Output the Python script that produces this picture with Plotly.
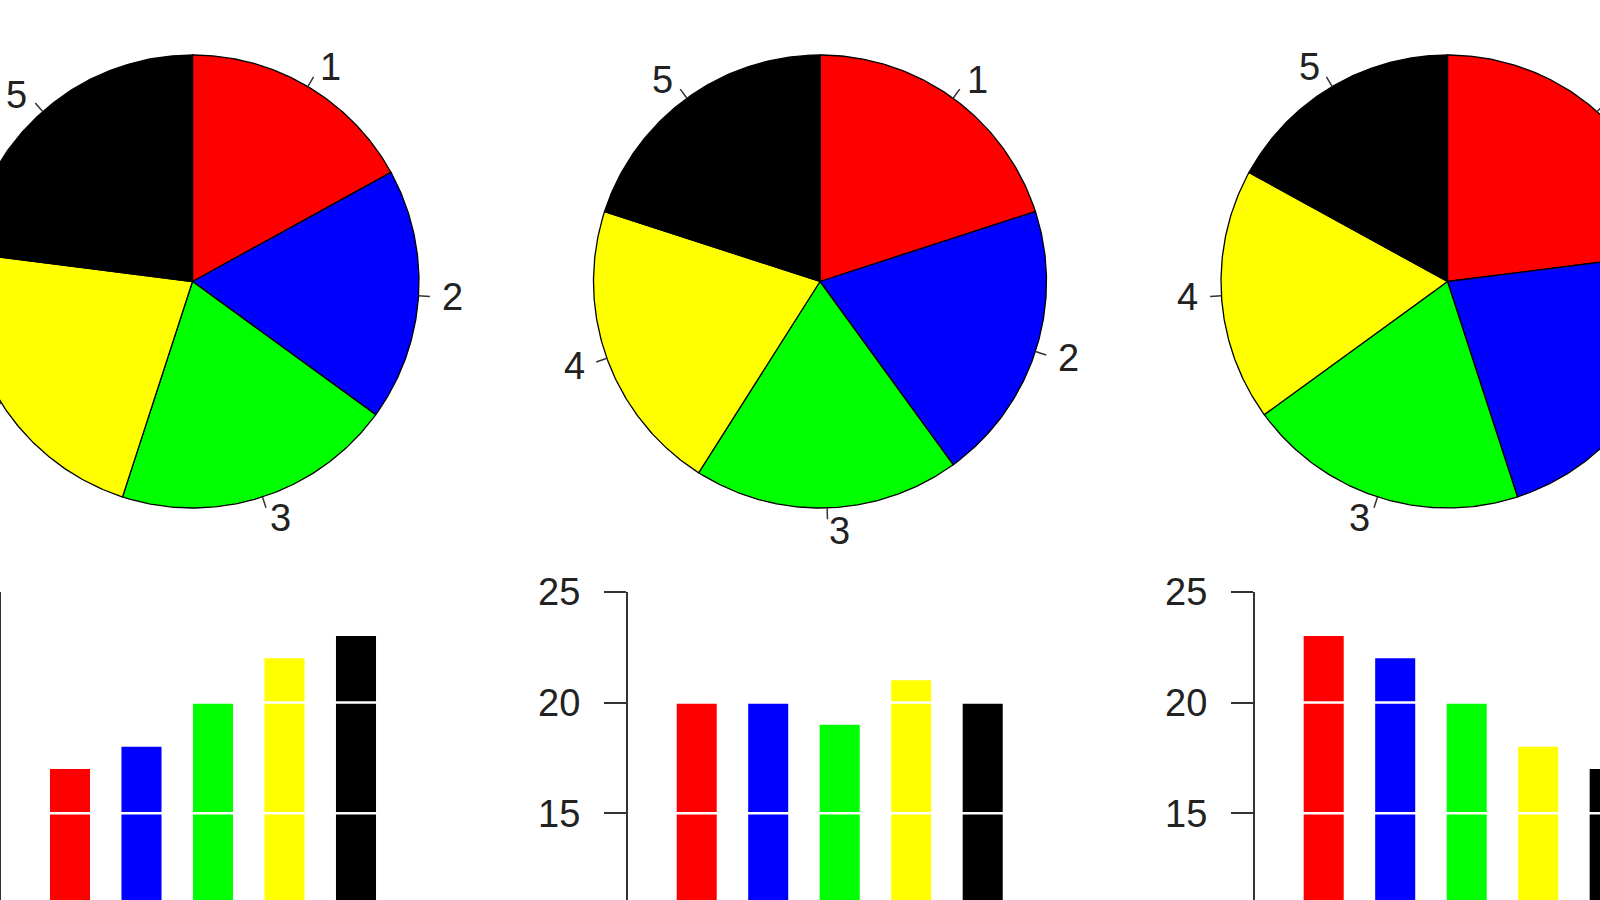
import numpy as np
import plotly.graph_objects as go

# data
slice_labels = ["1", "2", "3", "4", "5"]
values_a = [17, 18, 20, 22, 23]
values_b = [20, 20, 19, 21, 20]
values_c = [23, 22, 20, 18, 17]
bar_pos = [1, 2, 3, 4, 5]
y_ticks = [15, 20, 25]
colors = ["#ff0000", "#0000ff", "#00ff00", "#ffff00", "#000000"]

W, H = 1600, 900
FONT = dict(family="Liberation Sans, Arial, sans-serif", size=38, color="#222")
INK = "#333"

fig = go.Figure()

# --- pies, drawn on a pixel-scaled hidden axis so they can run off the page ---
pie_cx = [192.5, 820, 1447.5]
pie_cy = 281.5
pie_r = 226.5

for vals, cx in zip([values_a, values_b, values_c], pie_cx):
    frac = np.cumsum([0] + vals) / sum(vals)
    for i in range(len(vals)):
        t = np.linspace(frac[i], frac[i + 1], 120) * 2 * np.pi
        xs = np.concatenate([[cx], cx + pie_r * np.sin(t), [cx]])
        ys = np.concatenate([[pie_cy], pie_cy - pie_r * np.cos(t), [pie_cy]])
        fig.add_trace(go.Scatter(
            x=xs, y=ys, mode="lines", fill="toself", fillcolor=colors[i],
            line=dict(color="black", width=1.3), hoverinfo="skip", showlegend=False,
        ))
        # label tick + label, like R's pie()
        tm = (frac[i] + frac[i + 1]) * np.pi
        dx, dy = np.sin(tm), -np.cos(tm)
        fig.add_trace(go.Scatter(
            x=[cx + pie_r * dx, cx + 1.05 * pie_r * dx],
            y=[pie_cy + pie_r * dy, pie_cy + 1.05 * pie_r * dy],
            mode="lines", line=dict(color=INK, width=1.5),
            hoverinfo="skip", showlegend=False,
        ))
        lx = cx + 1.1 * pie_r * dx
        if lx < 0 or lx > W:
            continue  # label falls outside the crop
        fig.add_annotation(
            x=lx, y=pie_cy + 1.1 * pie_r * dy,
            xref="x", yref="y", text=slice_labels[i], showarrow=False,
            xanchor="left" if dx >= 0 else "right", yanchor="middle",
            borderpad=0, font=FONT,
        )

# --- bar charts, bottom row, cropped at the page bottom ---
px_unit = 71.5          # pixels per bar slot
axis_left = [1, 627.7, 1254.7]
y_top_px = 591.7        # where 25 sits
px_per_val = 22.16
y_bottom = y_ticks[0] - (H - 813.3) / px_per_val

layout_axes = {}
for k, (vals, left) in enumerate(zip([values_a, values_b, values_c], axis_left)):
    n = k + 2
    right = min(left + 480, W)
    fig.add_trace(go.Bar(
        x=bar_pos, y=vals, width=0.56,
        marker=dict(color=colors, line=dict(width=0)),
        xaxis=f"x{n}", yaxis=f"y{n}", hoverinfo="skip", showlegend=False,
    ))
    layout_axes[f"xaxis{n}"] = dict(
        domain=[left / W, right / W],
        range=[0.035, 0.035 + (right - left) / px_unit],
        visible=False, anchor=f"y{n}", automargin=False,
    )
    layout_axes[f"yaxis{n}"] = dict(
        domain=[0, (H - y_top_px) / H], range=[y_bottom, y_ticks[-1]],
        anchor=f"x{n}", tickvals=y_ticks, showgrid=False, zeroline=False,
        showline=True, linecolor=INK, linewidth=1.5,
        ticks="outside", ticklen=22, tickwidth=1.5, tickcolor=INK,
        tickfont=FONT, ticklabelstandoff=16, automargin=False,
        # first panel's labels sit off the left edge of the crop
        showticklabels=left > 100,
    )
    # white reference lines crossing the bars
    for v in y_ticks:
        fig.add_shape(
            type="line", xref=f"x{n} domain", yref=f"y{n}",
            x0=0.004, x1=1, y0=v, y1=v, layer="above",
            line=dict(color="white", width=2.5),
        )

fig.update_layout(
    width=W, height=H,
    margin=dict(l=0, r=0, t=0, b=0, pad=0, autoexpand=False),
    paper_bgcolor="white", plot_bgcolor="rgba(0,0,0,0)",
    showlegend=False,
    xaxis=dict(domain=[0, 1], range=[0, W], visible=False, fixedrange=True, automargin=False),
    yaxis=dict(domain=[0, 1], range=[H, 0], visible=False, fixedrange=True, automargin=False),
    **layout_axes,
)

fig.write_html(
    "out.html",
    config={"displayModeBar": False},
    post_script="document.body.style.margin='0';document.body.style.overflow='hidden';",
)
